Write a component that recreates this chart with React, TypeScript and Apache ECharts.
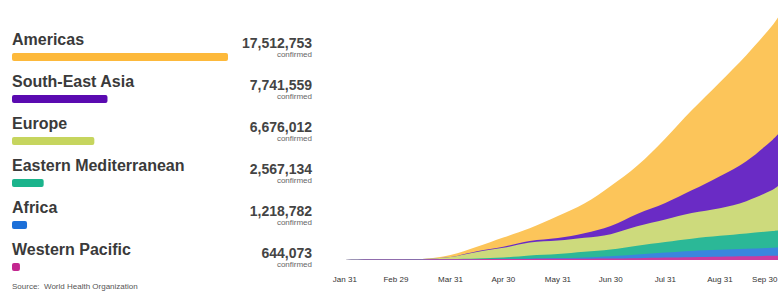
import React, { useEffect, useRef } from 'react';
import * as echarts from 'echarts';

// Sample dates for the stacked area (cumulative confirmed cases, millions)
const dates = ['2020-01-22', '2020-01-31', '2020-02-15', '2020-02-29', '2020-03-15', '2020-03-31', '2020-04-15', '2020-04-30', '2020-05-15', '2020-05-31', '2020-06-15', '2020-06-30', '2020-07-15', '2020-07-31', '2020-08-15', '2020-08-31', '2020-09-15', '2020-09-30', '2020-10-03'];
const westernPacific = [0.001, 0.01, 0.07, 0.08, 0.085, 0.1, 0.12, 0.14, 0.15, 0.17, 0.19, 0.22, 0.28, 0.36, 0.43, 0.5, 0.56, 0.63, 0.644];
const africa = [0, 0, 0, 0, 0.0001, 0.005, 0.015, 0.03, 0.08, 0.12, 0.2, 0.35, 0.55, 0.75, 0.92, 1.03, 1.12, 1.2, 1.219];
const easternMediterranean = [0, 0, 0, 0.001, 0.02, 0.03, 0.08, 0.2, 0.46, 0.62, 0.85, 1.0, 1.31, 1.6, 1.85, 2.1, 2.3, 2.52, 2.567];
const europe = [0, 0, 0, 0.002, 0.05, 0.31, 1.0, 1.46, 1.92, 2.0, 2.08, 2.31, 2.92, 3.38, 3.85, 4.15, 4.85, 6.2, 6.676];
const southEastAsia = [0, 0, 0, 0, 0.0002, 0.005, 0.08, 0.15, 0.23, 0.38, 0.69, 1.23, 1.85, 2.46, 3.4, 4.8, 6.0, 7.5, 7.742];
const americas = [0, 0, 0, 0, 0.005, 0.31, 0.69, 1.38, 1.92, 3.31, 4.46, 6.0, 7.23, 9.69, 12.0, 14.1, 15.9, 17.2, 17.513];

// Legend panel
const regions = ['Americas', 'South-East Asia', 'Europe', 'Eastern Mediterranean', 'Africa', 'Western Pacific'];
const confirmed = [17512753, 7741559, 6676012, 2567134, 1218782, 644073];

// Axis ticks
const tickDates = ['2020-01-31', '2020-02-29', '2020-03-31', '2020-04-30', '2020-05-31', '2020-06-30', '2020-07-31', '2020-08-31', '2020-09-30'];
const tickLabels = ['Jan 31', 'Feb 29', 'Mar 31', 'Apr 30', 'May 31', 'Jun 30', 'Jul 31', 'Aug 31', 'Sep 30'];

const barColors = ['#FDB93B', '#5A0AB0', '#C6D55E', '#1BB48C', '#1C6FD8', '#C3278F'];
const areaColors: Record<string, string> = {
  'Americas': '#FCC55A',
  'South-East Asia': '#6A2BC5',
  'Europe': '#CDDA7C',
  'Eastern Mediterranean': '#2BB897',
  'Africa': '#3A86DE',
  'Western Pacific': '#C93CA0',
};

const FONT = '"Liberation Sans", Arial, Helvetica, sans-serif';
const NARROW = '"Liberation Sans Narrow", "Liberation Sans", Arial, sans-serif';

// day number counted from Jan 31, 2020
function dayNum(s: string): number {
  const [y, m, d] = s.split('-').map(Number);
  return Math.round((Date.UTC(y, m - 1, d) - Date.UTC(2020, 0, 31)) / 86400000);
}

export default function App() {
  const ref = useRef<HTMLDivElement>(null);
  useEffect(() => {
    if (!ref.current) return;
    const chart = echarts.init(ref.current, null, { renderer: 'svg' });
    const tickDays = tickDates.map(dayNum);
    const xs = dates.map(dayNum);
    // bottom → top stacking order
    const stackOrder: [string, number[]][] = [
      ['Western Pacific', westernPacific],
      ['Africa', africa],
      ['Eastern Mediterranean', easternMediterranean],
      ['Europe', europe],
      ['South-East Asia', southEastAsia],
      ['Americas', americas],
    ];
    const cum: number[][] = [];
    stackOrder.forEach(([, arr], k) => {
      cum.push(arr.map((v, i) => v + (k > 0 ? cum[k - 1][i] : 0)));
    });
    // draw the top-most cumulative first so lower layers paint over it
    const areaSeries = stackOrder
      .map(([name], k) => ({
        name,
        type: 'line',
        xAxisIndex: 0,
        yAxisIndex: 0,
        smooth: 0.35,
        symbol: 'none',
        showSymbol: false,
        lineStyle: { width: 0, color: areaColors[name] },
        itemStyle: { color: areaColors[name] },
        areaStyle: { color: areaColors[name], opacity: 1, origin: 'start' },
        data: xs.map((x, i) => [x, cum[k][i]]),
        silent: true,
      }))
      .reverse();

    const option: any = {
      animation: false,
      title: {
        text: 'Source:  World Health Organization',
        left: 12,
        top: 282,
        padding: 0,
        textStyle: { fontSize: 8, fontWeight: 'normal', color: '#555', fontFamily: FONT },
      },
      grid: [
        { left: 329, right: 0, top: 0, bottom: 31, outerBoundsMode: 'none', containLabel: false },
        { left: 12, top: 36, width: 216, height: 252, outerBoundsMode: 'none', containLabel: false },
      ],
      xAxis: [
        {
          type: 'value',
          gridIndex: 0,
          min: xs[0],
          max: xs[xs.length - 1],
          axisLine: { show: false },
          axisTick: { show: false },
          splitLine: { show: false },
          axisLabel: {
            customValues: tickDays,
            fontSize: 8,
            color: '#333',
            margin: 15,
            fontFamily: NARROW,
            formatter: (v: number) => {
              const idx = tickDays.indexOf(v);
              if (idx < 0) return '';
              if (idx === tickDays.length - 1) return '{last|' + tickLabels[idx] + '}';
              return tickLabels[idx];
            },
            rich: {
              last: {
                fontSize: 8,
                color: '#333',
                padding: [0, 16, 0, 0],
                fontFamily: NARROW,
              },
            },
          },
        },
        { type: 'value', gridIndex: 1, min: 0, max: confirmed[0], show: false },
      ],
      yAxis: [
        { type: 'value', gridIndex: 0, min: 0, max: 39, show: false },
        { type: 'category', gridIndex: 1, data: regions, inverse: true, show: false },
      ],
      series: [
        ...areaSeries,
        {
          type: 'bar',
          xAxisIndex: 1,
          yAxisIndex: 1,
          barWidth: 8,
          data: confirmed.map((v, i) => ({ value: v, itemStyle: { color: barColors[i], borderRadius: 2 } })),
          label: {
            show: true,
            position: [0, -14],
            align: 'left',
            verticalAlign: 'middle',
            formatter: (p: any) => p.name,
            fontSize: 16,
            fontWeight: 'bold',
            color: '#3a3a3a',
            fontFamily: FONT,
          },
          silent: true,
        },
        {
          type: 'bar',
          xAxisIndex: 1,
          yAxisIndex: 1,
          barWidth: 8,
          barGap: '-100%',
          itemStyle: { color: 'rgba(0,0,0,0)' },
          data: confirmed,
          label: {
            show: true,
            position: [300, -18],
            align: 'right',
            verticalAlign: 'top',
            formatter: (p: any) => '{v|' + Number(p.value).toLocaleString('en-US') + '}\n{c|confirmed}',
            rich: {
              v: { fontSize: 14, fontWeight: 'bold', color: '#444', lineHeight: 15, fontFamily: FONT, align: 'right' },
              c: { fontSize: 8, color: '#666', lineHeight: 9, fontFamily: FONT, align: 'right' },
            },
          },
          silent: true,
        },
      ],
    };
    chart.setOption(option);
    return () => chart.dispose();
  }, []);
  return <div ref={ref} style={{ position: 'absolute', left: 0, top: 0, width: 778, height: 291 }} />;
}
